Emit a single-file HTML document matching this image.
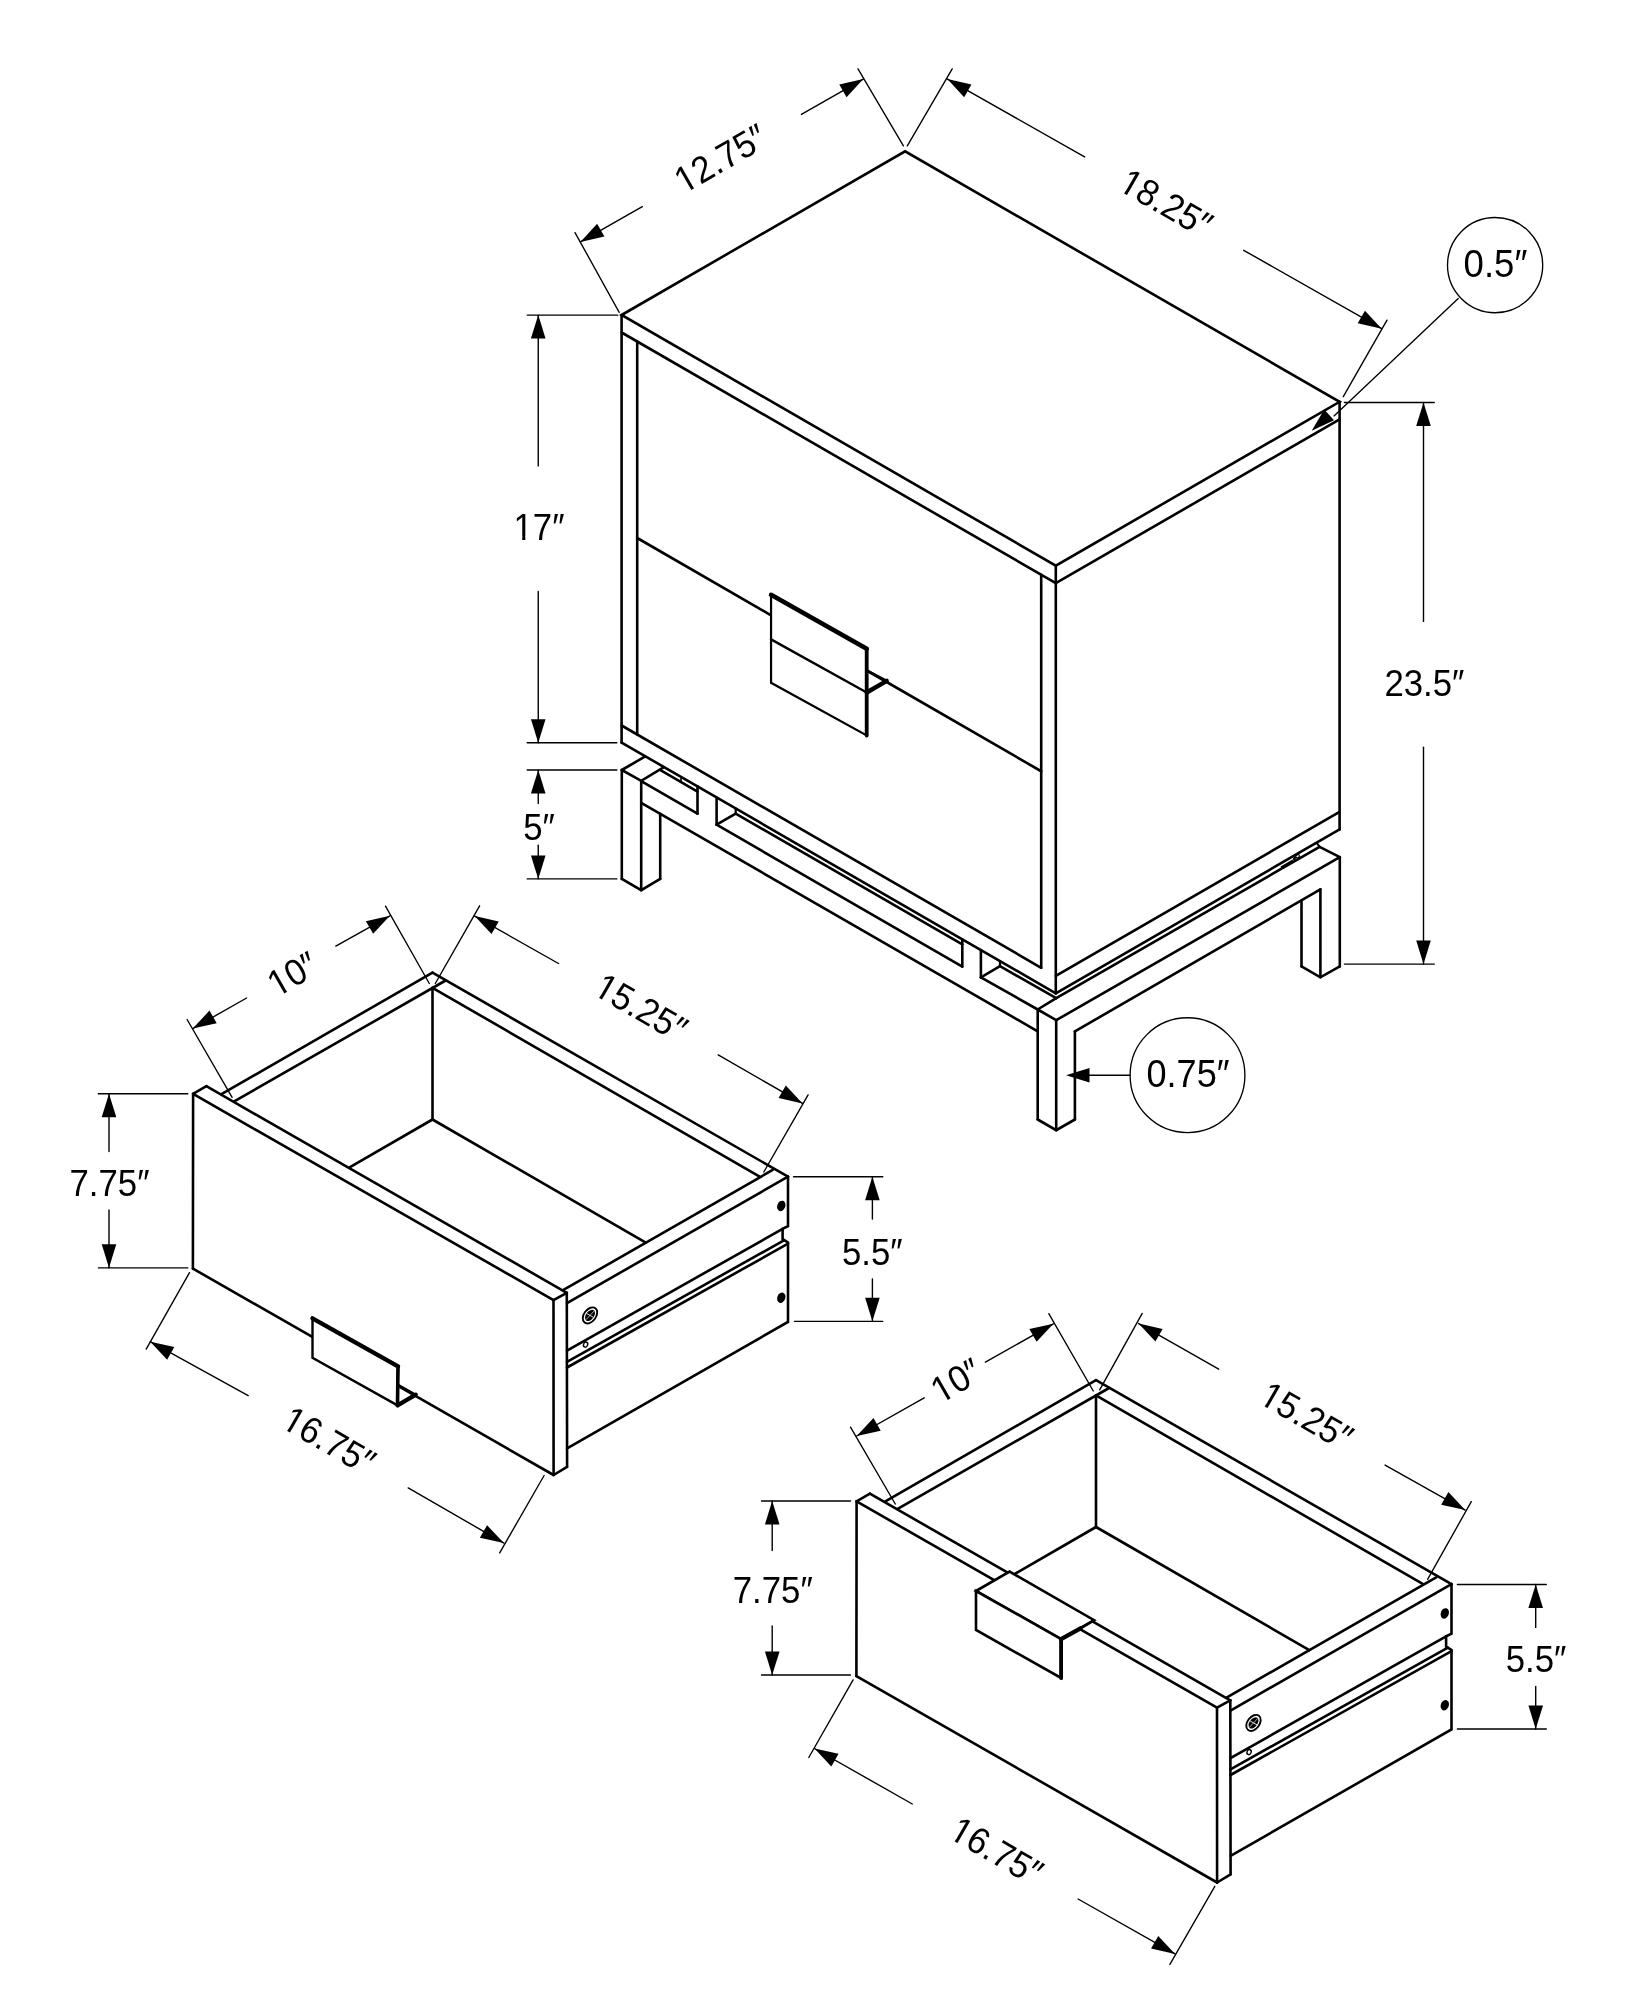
<!DOCTYPE html>
<html><head><meta charset="utf-8"><style>
html,body{margin:0;padding:0;background:#fff;width:1647px;height:2000px;overflow:hidden}
svg{display:block;filter:grayscale(1)}
text{font-family:"Liberation Sans",sans-serif;fill:#000;stroke:none}
</style></head><body>
<svg width="1647" height="2000" viewBox="0 0 1647 2000">
<g stroke="#000" stroke-linecap="round" stroke-linejoin="miter" fill="none">
<polygon points="621.6,315 905.1,151.32 1339.6,401.83 1055.8,565.69" stroke-width="2.6" fill="none"/>
<line x1="621.6" y1="332.5" x2="1055.8" y2="583.19" stroke-width="2.6"/>
<line x1="1055.8" y1="583.19" x2="1339.6" y2="419.33" stroke-width="2.6"/>
<line x1="621.6" y1="315" x2="621.6" y2="742.6" stroke-width="2.6"/>
<line x1="1055.8" y1="565.69" x2="1055.8" y2="993.29" stroke-width="2.6"/>
<line x1="1339.6" y1="401.83" x2="1339.6" y2="829.43" stroke-width="2.6"/>
<line x1="621.6" y1="742.6" x2="1055.8" y2="993.29" stroke-width="2.6"/>
<line x1="1055.8" y1="993.29" x2="1339.6" y2="829.43" stroke-width="2.6"/>
<line x1="621.6" y1="725.5" x2="1041.2" y2="967.76" stroke-width="2.6"/>
<line x1="1055.8" y1="975.79" x2="1339.6" y2="811.93" stroke-width="2.6"/>
<line x1="637.2" y1="341.51" x2="637.2" y2="734.51" stroke-width="2.6"/>
<line x1="1041.2" y1="574.76" x2="1041.2" y2="967.76" stroke-width="2.6"/>
<line x1="637.2" y1="538" x2="771.05" y2="615.28" stroke-width="2.6"/>
<line x1="866.7" y1="670.5" x2="1041.2" y2="771.25" stroke-width="2.6"/>
<polygon points="771.05,594.8 866.7,648.8 866.7,735.5 771.05,682.8" stroke-width="2.2" fill="#fff"/>
<line x1="771.05" y1="639.4" x2="866.7" y2="692.5" stroke-width="2.4"/>
<line x1="771.05" y1="594.8" x2="866.7" y2="648.8" stroke-width="4.6"/>
<line x1="866.7" y1="648.8" x2="866.7" y2="735.5" stroke-width="3.8"/>
<line x1="866.7" y1="692.5" x2="886.7" y2="680.8" stroke-width="4.4"/>
<line x1="866.7" y1="670.3" x2="886.7" y2="680.8" stroke-width="2.2"/>
<line x1="619.2" y1="312.3" x2="575" y2="232.6" stroke-width="1.35"/>
<line x1="903.4" y1="145.9" x2="858" y2="68.9" stroke-width="1.35"/>
<line x1="580.4" y1="241.9" x2="642.3" y2="206.6" stroke-width="1.4"/>
<line x1="801.4" y1="114.4" x2="863.3" y2="79.1" stroke-width="1.4"/>
<polygon points="580.4,241.9 597.13,223.85 604.41,236.51" fill="#000" stroke="none"/>
<polygon points="863.3,79.1 846.57,97.15 839.29,84.49" fill="#000" stroke="none"/>
<g transform="translate(720.5,158.5) rotate(-30) scale(0.94,1)"><text y="12.73" font-size="37" text-anchor="middle">12.75″</text><rect x="-51.22" y="9.3" width="7.64" height="4.88" fill="#fff" stroke="none"/><rect x="-40.23" y="9.3" width="7.23" height="4.88" fill="#fff" stroke="none"/></g>
<line x1="907.3" y1="145.9" x2="952.2" y2="68.9" stroke-width="1.35"/>
<line x1="1343.3" y1="396.7" x2="1387" y2="320.2" stroke-width="1.35"/>
<line x1="947.4" y1="79.1" x2="1084.6" y2="156.9" stroke-width="1.4"/>
<line x1="1243.7" y1="250.3" x2="1381.7" y2="328.7" stroke-width="1.4"/>
<polygon points="947.4,79.1 971.41,84.48 964.14,97.14" fill="#000" stroke="none"/>
<polygon points="1381.7,328.7 1357.69,323.32 1364.96,310.66" fill="#000" stroke="none"/>
<g transform="translate(1166,203) rotate(30) scale(0.94,1)"><text y="12.73" font-size="37" text-anchor="middle">18.25″</text><rect x="-51.22" y="9.3" width="7.64" height="4.88" fill="#fff" stroke="none"/><rect x="-40.23" y="9.3" width="7.23" height="4.88" fill="#fff" stroke="none"/></g>
<circle cx="1495.1" cy="265.1" r="47.6" stroke-width="1.35" fill="none"/>
<g transform="translate(1495.5,264) rotate(0) scale(0.95,1)"><text y="13.24" font-size="38.5" text-anchor="middle">0.5″</text></g>
<line x1="1458.2" y1="298.4" x2="1334" y2="415.9" stroke-width="1.35"/>
<polygon points="1311.7,430.7 1324.25,409.53 1334.03,420.37" fill="#000" stroke="none"/>
<line x1="1344.4" y1="402.5" x2="1434.3" y2="402.5" stroke-width="1.35"/>
<line x1="1344.4" y1="964.1" x2="1434.3" y2="964.1" stroke-width="1.35"/>
<line x1="1423.5" y1="402.5" x2="1423.5" y2="621.4" stroke-width="1.4"/>
<line x1="1423.5" y1="747.3" x2="1423.5" y2="964.1" stroke-width="1.4"/>
<polygon points="1423.5,402.5 1430.8,426 1416.2,426" fill="#000" stroke="none"/>
<polygon points="1423.5,964.1 1416.2,940.6 1430.8,940.6" fill="#000" stroke="none"/>
<g transform="translate(1424.4,682.8) rotate(0) scale(0.94,1)"><text y="12.73" font-size="37" text-anchor="middle">23.5″</text></g>
<line x1="527.2" y1="315.1" x2="617.8" y2="315.1" stroke-width="1.35"/>
<line x1="527.2" y1="742.75" x2="616.9" y2="742.75" stroke-width="1.35"/>
<line x1="538.25" y1="315.1" x2="538.25" y2="465.9" stroke-width="1.4"/>
<line x1="538.25" y1="591.4" x2="538.25" y2="742.75" stroke-width="1.4"/>
<polygon points="538.25,315.1 545.55,338.6 530.95,338.6" fill="#000" stroke="none"/>
<polygon points="538.25,742.75 530.95,719.25 545.55,719.25" fill="#000" stroke="none"/>
<g transform="translate(539,527) rotate(0) scale(0.94,1)"><text y="12.73" font-size="37" text-anchor="middle">17″</text><rect x="-25.5" y="9.3" width="7.64" height="4.88" fill="#fff" stroke="none"/><rect x="-14.52" y="9.3" width="7.23" height="4.88" fill="#fff" stroke="none"/></g>
<line x1="527.2" y1="769.95" x2="616.9" y2="769.95" stroke-width="1.35"/>
<line x1="527.2" y1="878.9" x2="616.9" y2="878.9" stroke-width="1.35"/>
<line x1="538.25" y1="769.95" x2="538.25" y2="803.5" stroke-width="1.4"/>
<line x1="538.25" y1="845.2" x2="538.25" y2="878.9" stroke-width="1.4"/>
<polygon points="538.25,769.95 545.55,793.45 530.95,793.45" fill="#000" stroke="none"/>
<polygon points="538.25,878.9 530.95,855.4 545.55,855.4" fill="#000" stroke="none"/>
<g transform="translate(539,827.5) rotate(0) scale(0.94,1)"><text y="12.73" font-size="37" text-anchor="middle">5″</text></g>
<circle cx="1187.5" cy="1075.2" r="57.4" stroke-width="1.35" fill="none"/>
<g transform="translate(1188,1074.2) rotate(0) scale(0.95,1)"><text y="13.07" font-size="38" text-anchor="middle">0.75″</text></g>
<line x1="1130.1" y1="1075.2" x2="1085" y2="1075.2" stroke-width="1.35"/>
<polygon points="1066,1075.2 1089.5,1067.9 1089.5,1082.5" fill="#000" stroke="none"/>
<polyline points="621.8,770 644.8,756.7" stroke-width="2.6" fill="none"/>
<polyline points="621.8,770 641.2,780.8 663.1,767.7" stroke-width="2.6" fill="none"/>
<line x1="621.8" y1="770" x2="621.8" y2="878.9" stroke-width="2.6"/>
<line x1="641.2" y1="780.8" x2="641.2" y2="890.2" stroke-width="2.6"/>
<line x1="660.2" y1="813.7" x2="660.2" y2="878.9" stroke-width="2.6"/>
<polyline points="621.8,878.9 641.2,890.2 660.2,878.9" stroke-width="2.6" fill="none"/>
<line x1="641.2" y1="802.8" x2="1037.7" y2="1031.3" stroke-width="2.6"/>
<line x1="641.2" y1="781.2" x2="697.5" y2="813.7" stroke-width="2.6"/>
<line x1="716.6" y1="824.73" x2="962.3" y2="966.59" stroke-width="2.6"/>
<line x1="980.9" y1="977.33" x2="1037.7" y2="1009.5" stroke-width="2.6"/>
<line x1="660.9" y1="770.4" x2="697.5" y2="791.53" stroke-width="2.6"/>
<line x1="735.7" y1="813.59" x2="962.3" y2="944.41" stroke-width="2.6"/>
<line x1="1000" y1="966.18" x2="1056.2" y2="998.1" stroke-width="2.6"/>
<line x1="681" y1="776.89" x2="681" y2="782" stroke-width="1.6"/>
<line x1="697.5" y1="786.42" x2="697.5" y2="813.7" stroke-width="2.6"/>
<line x1="716.6" y1="797.45" x2="716.6" y2="824.73" stroke-width="2.6"/>
<line x1="962.3" y1="939.3" x2="962.3" y2="966.59" stroke-width="2.6"/>
<line x1="980.9" y1="950.04" x2="980.9" y2="977.33" stroke-width="2.6"/>
<line x1="735.7" y1="808.48" x2="735.7" y2="813.59" stroke-width="2.2"/>
<line x1="1000" y1="961.07" x2="1000" y2="966.18" stroke-width="2.2"/>
<line x1="716.6" y1="824.73" x2="735.7" y2="813.59" stroke-width="2.6"/>
<line x1="980.9" y1="977.33" x2="1000" y2="966.18" stroke-width="2.6"/>
<line x1="1037.7" y1="1009.5" x2="1056.2" y2="998.1" stroke-width="2.6"/>
<line x1="1037.7" y1="1009.5" x2="1056.2" y2="1020.2" stroke-width="2.6"/>
<line x1="1037.7" y1="1009.5" x2="1037.7" y2="1119.5" stroke-width="2.6"/>
<line x1="1056.2" y1="1020.2" x2="1056.2" y2="1130.2" stroke-width="2.6"/>
<line x1="1074.9" y1="1031.4" x2="1074.9" y2="1119.5" stroke-width="2.6"/>
<polyline points="1037.7,1119.5 1056.2,1130.2 1074.9,1119.5" stroke-width="2.6" fill="none"/>
<line x1="1056.2" y1="998.1" x2="1319.6" y2="846.8" stroke-width="2.6"/>
<line x1="1319.6" y1="846.8" x2="1339.8" y2="857.2" stroke-width="2.6"/>
<line x1="1316.8" y1="843" x2="1319.6" y2="846.8" stroke-width="2.0"/>
<line x1="1056.2" y1="1020.2" x2="1339.8" y2="857.2" stroke-width="2.6"/>
<line x1="1074.9" y1="1031.4" x2="1320.4" y2="889.4" stroke-width="2.6"/>
<polygon points="1280.5,866.5 1292.5,859.5 1293.5,862 1282,868.8" fill="#000" stroke="none"/>
<ellipse cx="1294.5" cy="858.3" rx="1.3" ry="2.2" fill="#000" stroke="none" transform="rotate(30 1294.5 858.3)"/>
<ellipse cx="1297.6" cy="856.2" rx="1.9" ry="1.5" fill="none" stroke-width="1.2" transform="rotate(-30 1297.6 856.2)"/>
<line x1="1301.5" y1="900.9" x2="1301.5" y2="966.4" stroke-width="2.6"/>
<line x1="1320.4" y1="889.4" x2="1320.4" y2="977.3" stroke-width="2.6"/>
<line x1="1339.8" y1="857.2" x2="1339.8" y2="966.4" stroke-width="2.6"/>
<polyline points="1301.5,966.4 1320.4,977.3 1339.8,966.4" stroke-width="2.6" fill="none"/>
<line x1="98.3" y1="1093.7" x2="187.8" y2="1093.7" stroke-width="1.35"/>
<line x1="98.3" y1="1267.8" x2="187.8" y2="1267.8" stroke-width="1.35"/>
<line x1="109" y1="1093.7" x2="109" y2="1151.5" stroke-width="1.4"/>
<line x1="109" y1="1210" x2="109" y2="1267.8" stroke-width="1.4"/>
<polygon points="109,1093.7 116.3,1117.2 101.7,1117.2" fill="#000" stroke="none"/>
<polygon points="109,1267.8 101.7,1244.3 116.3,1244.3" fill="#000" stroke="none"/>
<g transform="translate(109.5,1183.2) rotate(0) scale(0.94,1)"><text y="12.73" font-size="37" text-anchor="middle">7.75″</text></g>
<line x1="793.5" y1="1176.7" x2="882.8" y2="1176.7" stroke-width="1.35"/>
<line x1="794.4" y1="1321.3" x2="882.8" y2="1321.3" stroke-width="1.35"/>
<line x1="872.4" y1="1176.7" x2="872.4" y2="1219" stroke-width="1.4"/>
<line x1="872.4" y1="1279" x2="872.4" y2="1321.3" stroke-width="1.4"/>
<polygon points="872.4,1176.7 879.7,1200.2 865.1,1200.2" fill="#000" stroke="none"/>
<polygon points="872.4,1321.3 865.1,1297.8 879.7,1297.8" fill="#000" stroke="none"/>
<g transform="translate(872.3,1252) rotate(0) scale(0.94,1)"><text y="12.73" font-size="37" text-anchor="middle">5.5″</text></g>
<line x1="232.1" y1="1097.4" x2="187.1" y2="1019.5" stroke-width="1.35"/>
<line x1="429.3" y1="983.5" x2="385.5" y2="906.2" stroke-width="1.35"/>
<line x1="192.7" y1="1028.6" x2="246.6" y2="998" stroke-width="1.4"/>
<line x1="335.8" y1="946.1" x2="389.9" y2="915.8" stroke-width="1.4"/>
<polygon points="192.7,1028.6 209.47,1010.6 216.72,1023.27" fill="#000" stroke="none"/>
<polygon points="389.9,915.8 373.13,933.8 365.88,921.13" fill="#000" stroke="none"/>
<g transform="translate(292.5,974) rotate(-30) scale(0.94,1)"><text y="12.73" font-size="37" text-anchor="middle">10″</text><rect x="-25.5" y="9.3" width="7.64" height="4.88" fill="#fff" stroke="none"/><rect x="-14.52" y="9.3" width="7.23" height="4.88" fill="#fff" stroke="none"/></g>
<line x1="435.3" y1="983.5" x2="479.6" y2="905.8" stroke-width="1.35"/>
<line x1="763.8" y1="1172" x2="808.1" y2="1094.9" stroke-width="1.35"/>
<line x1="474.7" y1="916.1" x2="558.5" y2="963.5" stroke-width="1.4"/>
<line x1="718.2" y1="1054.9" x2="802.6" y2="1103.4" stroke-width="1.4"/>
<polygon points="474.7,916.1 498.73,921.42 491.48,934.09" fill="#000" stroke="none"/>
<polygon points="802.6,1103.4 778.57,1098.08 785.82,1085.41" fill="#000" stroke="none"/>
<g transform="translate(641,1007.5) rotate(30) scale(0.94,1)"><text y="12.73" font-size="37" text-anchor="middle">15.25″</text><rect x="-51.22" y="9.3" width="7.64" height="4.88" fill="#fff" stroke="none"/><rect x="-40.23" y="9.3" width="7.23" height="4.88" fill="#fff" stroke="none"/></g>
<line x1="189.5" y1="1272.7" x2="146.2" y2="1349.1" stroke-width="1.35"/>
<line x1="544.1" y1="1475.5" x2="499.7" y2="1552.9" stroke-width="1.35"/>
<line x1="150.3" y1="1341.7" x2="248.2" y2="1395.7" stroke-width="1.4"/>
<line x1="408.2" y1="1487.9" x2="503.9" y2="1543.1" stroke-width="1.4"/>
<polygon points="150.3,1341.7 174.33,1346.99 167.11,1359.67" fill="#000" stroke="none"/>
<polygon points="503.9,1543.1 479.87,1537.81 487.09,1525.13" fill="#000" stroke="none"/>
<g transform="translate(329,1440.5) rotate(30) scale(0.94,1)"><text y="12.73" font-size="37" text-anchor="middle">16.75″</text><rect x="-51.22" y="9.3" width="7.64" height="4.88" fill="#fff" stroke="none"/><rect x="-40.23" y="9.3" width="7.23" height="4.88" fill="#fff" stroke="none"/></g>
<line x1="761.5" y1="1501" x2="850.5" y2="1501" stroke-width="1.35"/>
<line x1="761.5" y1="1675" x2="850.5" y2="1675" stroke-width="1.35"/>
<line x1="772.2" y1="1501" x2="772.2" y2="1550.5" stroke-width="1.4"/>
<line x1="772.2" y1="1626" x2="772.2" y2="1675" stroke-width="1.4"/>
<polygon points="772.2,1501 779.5,1524.5 764.9,1524.5" fill="#000" stroke="none"/>
<polygon points="772.2,1675 764.9,1651.5 779.5,1651.5" fill="#000" stroke="none"/>
<g transform="translate(772.7,1590.3) rotate(0) scale(0.94,1)"><text y="12.73" font-size="37" text-anchor="middle">7.75″</text></g>
<line x1="1457.4" y1="1584.5" x2="1546.3" y2="1584.5" stroke-width="1.35"/>
<line x1="1457.4" y1="1729" x2="1546.3" y2="1729" stroke-width="1.35"/>
<line x1="1535.7" y1="1584.5" x2="1535.7" y2="1627.4" stroke-width="1.4"/>
<line x1="1535.7" y1="1686.5" x2="1535.7" y2="1729" stroke-width="1.4"/>
<polygon points="1535.7,1584.5 1543,1608 1528.4,1608" fill="#000" stroke="none"/>
<polygon points="1535.7,1729 1528.4,1705.5 1543,1705.5" fill="#000" stroke="none"/>
<g transform="translate(1536.1,1659.5) rotate(0) scale(0.94,1)"><text y="12.73" font-size="37" text-anchor="middle">5.5″</text></g>
<line x1="895.3" y1="1504" x2="850.5" y2="1427.2" stroke-width="1.35"/>
<line x1="1093.3" y1="1391" x2="1048.8" y2="1313.6" stroke-width="1.35"/>
<line x1="856.7" y1="1436" x2="924.2" y2="1397.8" stroke-width="1.4"/>
<line x1="985.4" y1="1362.1" x2="1053.4" y2="1323.8" stroke-width="1.4"/>
<polygon points="856.7,1436 873.5,1418.02 880.73,1430.7" fill="#000" stroke="none"/>
<polygon points="1053.4,1323.8 1036.6,1341.78 1029.37,1329.1" fill="#000" stroke="none"/>
<g transform="translate(956,1380.5) rotate(-30) scale(0.94,1)"><text y="12.73" font-size="37" text-anchor="middle">10″</text><rect x="-25.5" y="9.3" width="7.64" height="4.88" fill="#fff" stroke="none"/><rect x="-14.52" y="9.3" width="7.23" height="4.88" fill="#fff" stroke="none"/></g>
<line x1="1099.7" y1="1389.9" x2="1142.2" y2="1313.4" stroke-width="1.35"/>
<line x1="1427.6" y1="1579.3" x2="1471.3" y2="1501.6" stroke-width="1.35"/>
<line x1="1138.6" y1="1323.6" x2="1218.7" y2="1369.2" stroke-width="1.4"/>
<line x1="1385.1" y1="1465.1" x2="1465.2" y2="1510.1" stroke-width="1.4"/>
<polygon points="1138.6,1323.6 1162.63,1328.91 1155.39,1341.59" fill="#000" stroke="none"/>
<polygon points="1465.2,1510.1 1441.17,1504.79 1448.41,1492.11" fill="#000" stroke="none"/>
<g transform="translate(1306.5,1416) rotate(30) scale(0.94,1)"><text y="12.73" font-size="37" text-anchor="middle">15.25″</text><rect x="-51.22" y="9.3" width="7.64" height="4.88" fill="#fff" stroke="none"/><rect x="-40.23" y="9.3" width="7.23" height="4.88" fill="#fff" stroke="none"/></g>
<line x1="853.1" y1="1679.8" x2="808.8" y2="1757.5" stroke-width="1.35"/>
<line x1="1214.8" y1="1886.3" x2="1169.9" y2="1964.3" stroke-width="1.35"/>
<line x1="814.5" y1="1748.5" x2="912.3" y2="1804" stroke-width="1.4"/>
<line x1="1078.1" y1="1899" x2="1175.1" y2="1953.9" stroke-width="1.4"/>
<polygon points="814.5,1748.5 838.53,1753.79 831.31,1766.47" fill="#000" stroke="none"/>
<polygon points="1175.1,1953.9 1151.07,1948.61 1158.29,1935.93" fill="#000" stroke="none"/>
<g transform="translate(996.5,1851) rotate(30) scale(0.94,1)"><text y="12.73" font-size="37" text-anchor="middle">16.75″</text><rect x="-51.22" y="9.3" width="7.64" height="4.88" fill="#fff" stroke="none"/><rect x="-40.23" y="9.3" width="7.23" height="4.88" fill="#fff" stroke="none"/></g>
<g>
<line x1="193.1" y1="1093.9" x2="192.9" y2="1268.6" stroke-width="2.6"/>
<line x1="193.1" y1="1093.9" x2="553.5" y2="1300.1" stroke-width="2.6"/>
<line x1="193.1" y1="1093.9" x2="206.4" y2="1086.2" stroke-width="2.6"/>
<line x1="206.4" y1="1086.2" x2="566.8" y2="1292.8" stroke-width="2.6"/>
<line x1="553.5" y1="1300.1" x2="566.8" y2="1292.8" stroke-width="2.6"/>
<line x1="553.5" y1="1300.1" x2="553.6" y2="1475" stroke-width="2.6"/>
<line x1="192.9" y1="1268.6" x2="553.6" y2="1475" stroke-width="2.6"/>
<line x1="553.6" y1="1475" x2="567.1" y2="1466.8" stroke-width="2.6"/>
<line x1="566.8" y1="1292.8" x2="567.1" y2="1466.8" stroke-width="2.6"/>
<line x1="221.9" y1="1093.9" x2="432.5" y2="972.6" stroke-width="2.6"/>
<line x1="234.6" y1="1101.2" x2="445.6" y2="980.5" stroke-width="2.6"/>
<line x1="432.5" y1="972.6" x2="788" y2="1176.65" stroke-width="2.6"/>
<line x1="432.5" y1="987.8" x2="759.2" y2="1176.4" stroke-width="2.6"/>
<line x1="432.5" y1="987.8" x2="432.5" y2="1119.5" stroke-width="2.6"/>
<line x1="432.5" y1="1119.5" x2="350" y2="1167.2" stroke-width="2.6"/>
<line x1="432.5" y1="1119.5" x2="645.8" y2="1242.6" stroke-width="2.6"/>
<line x1="772.7" y1="1169.9" x2="563" y2="1290.2" stroke-width="2.6"/>
<line x1="788" y1="1176.65" x2="567" y2="1303.1" stroke-width="2.6"/>
<polyline points="788,1176.65 788,1226.2 782.6,1228.9 782.6,1239.2 788,1242.4 788,1322 567.1,1448.3" stroke-width="2.6" fill="none"/>
<line x1="782.6" y1="1228.9" x2="567" y2="1350.6" stroke-width="2.6"/>
<line x1="784.4" y1="1240.1" x2="567" y2="1361.8" stroke-width="2.6"/>
<line x1="788" y1="1243.7" x2="567" y2="1367.5" stroke-width="2.6"/>
<ellipse cx="781.3" cy="1205.9" rx="4" ry="5.4" fill="#000" stroke="none" transform="rotate(20 781.3 1205.9)"/>
<ellipse cx="781.3" cy="1297.7" rx="4" ry="5.4" fill="#000" stroke="none" transform="rotate(20 781.3 1297.7)"/>
<g transform="translate(590.0,1315.4) rotate(37)"><ellipse rx="6.0" ry="9.0" stroke-width="1.9" fill="#fff"/><ellipse rx="4.0" ry="6.3" fill="#000" stroke="none"/><line x1="-4" y1="0.5" x2="4" y2="-0.5" stroke="#fff" stroke-width="0.8"/><line x1="0.6" y1="-5.5" x2="-0.6" y2="5.5" stroke="#fff" stroke-width="0.6"/></g>
<ellipse cx="585.6" cy="1344.6" rx="2" ry="2.6" stroke-width="1.4" fill="#fff" transform="rotate(25 585.6 1344.6)"/>
</g>
<g transform="translate(663.5,407.5)">
<line x1="193.1" y1="1093.9" x2="192.9" y2="1268.6" stroke-width="2.6"/>
<line x1="193.1" y1="1093.9" x2="553.5" y2="1300.1" stroke-width="2.6"/>
<line x1="193.1" y1="1093.9" x2="206.4" y2="1086.2" stroke-width="2.6"/>
<line x1="206.4" y1="1086.2" x2="566.8" y2="1292.8" stroke-width="2.6"/>
<line x1="553.5" y1="1300.1" x2="566.8" y2="1292.8" stroke-width="2.6"/>
<line x1="553.5" y1="1300.1" x2="553.6" y2="1475" stroke-width="2.6"/>
<line x1="192.9" y1="1268.6" x2="553.6" y2="1475" stroke-width="2.6"/>
<line x1="553.6" y1="1475" x2="567.1" y2="1466.8" stroke-width="2.6"/>
<line x1="566.8" y1="1292.8" x2="567.1" y2="1466.8" stroke-width="2.6"/>
<line x1="221.9" y1="1093.9" x2="432.5" y2="972.6" stroke-width="2.6"/>
<line x1="234.6" y1="1101.2" x2="445.6" y2="980.5" stroke-width="2.6"/>
<line x1="432.5" y1="972.6" x2="788" y2="1176.65" stroke-width="2.6"/>
<line x1="432.5" y1="987.8" x2="759.2" y2="1176.4" stroke-width="2.6"/>
<line x1="432.5" y1="987.8" x2="432.5" y2="1119.5" stroke-width="2.6"/>
<line x1="432.5" y1="1119.5" x2="350" y2="1167.2" stroke-width="2.6"/>
<line x1="432.5" y1="1119.5" x2="645.8" y2="1242.6" stroke-width="2.6"/>
<line x1="772.7" y1="1169.9" x2="563" y2="1290.2" stroke-width="2.6"/>
<line x1="788" y1="1176.65" x2="567" y2="1303.1" stroke-width="2.6"/>
<polyline points="788,1176.65 788,1226.2 782.6,1228.9 782.6,1239.2 788,1242.4 788,1322 567.1,1448.3" stroke-width="2.6" fill="none"/>
<line x1="782.6" y1="1228.9" x2="567" y2="1350.6" stroke-width="2.6"/>
<line x1="784.4" y1="1240.1" x2="567" y2="1361.8" stroke-width="2.6"/>
<line x1="788" y1="1243.7" x2="567" y2="1367.5" stroke-width="2.6"/>
<ellipse cx="781.3" cy="1205.9" rx="4" ry="5.4" fill="#000" stroke="none" transform="rotate(20 781.3 1205.9)"/>
<ellipse cx="781.3" cy="1297.7" rx="4" ry="5.4" fill="#000" stroke="none" transform="rotate(20 781.3 1297.7)"/>
<g transform="translate(590.0,1315.4) rotate(37)"><ellipse rx="6.0" ry="9.0" stroke-width="1.9" fill="#fff"/><ellipse rx="4.0" ry="6.3" fill="#000" stroke="none"/><line x1="-4" y1="0.5" x2="4" y2="-0.5" stroke="#fff" stroke-width="0.8"/><line x1="0.6" y1="-5.5" x2="-0.6" y2="5.5" stroke="#fff" stroke-width="0.6"/></g>
<ellipse cx="585.6" cy="1344.6" rx="2" ry="2.6" stroke-width="1.4" fill="#fff" transform="rotate(25 585.6 1344.6)"/>
</g>
<polygon points="312.5,1318.3 398,1366.3 397.5,1405.4 312.5,1357.8" stroke-width="2.4" fill="#fff"/>
<line x1="312.5" y1="1318.3" x2="398" y2="1366.3" stroke-width="4.4"/>
<line x1="398" y1="1366.3" x2="397.5" y2="1405.4" stroke-width="3.6"/>
<line x1="397.5" y1="1405.4" x2="415.8" y2="1394.6" stroke-width="4.2"/>
<line x1="398" y1="1384.6" x2="415.8" y2="1394.6" stroke-width="2.2"/>
<polygon points="976,1591 1009.6,1571.6 1094.1,1620.2 1061.1,1639.1" stroke-width="2.6" fill="#fff"/>
<polygon points="976,1591 976,1629.9 1061.1,1678 1061.1,1639.1" stroke-width="2.6" fill="#fff"/>
<line x1="1061.1" y1="1639.1" x2="1061.1" y2="1678" stroke-width="3.8"/>
<line x1="1061.1" y1="1639.1" x2="1080.5" y2="1628.4" stroke-width="4.2"/>
<line x1="1080.5" y1="1628.4" x2="1094.1" y2="1620.2" stroke-width="2.4"/>
</g>
</svg></body></html>
